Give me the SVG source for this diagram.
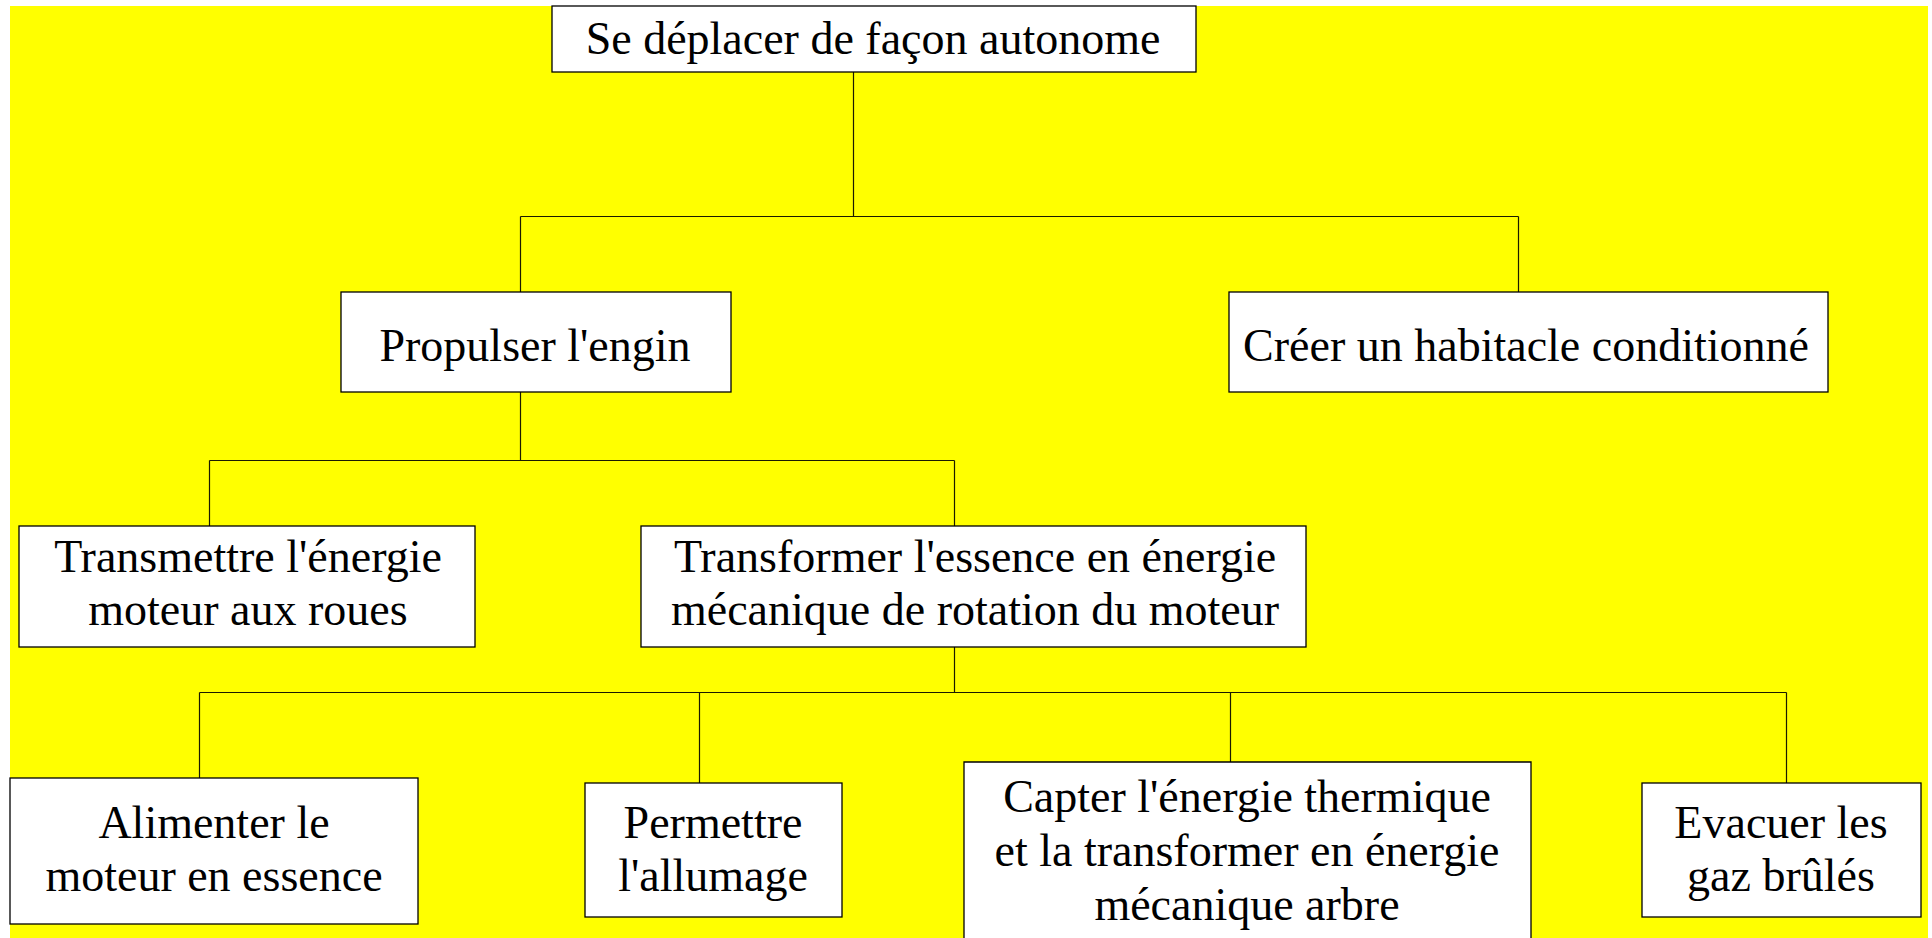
<svg xmlns="http://www.w3.org/2000/svg" width="1932" height="938" viewBox="0 0 1932 938">
<style>
.box{fill:#ffffff;stroke:#000000;stroke-width:1.3}
.t{font-family:"Liberation Serif","Times New Roman",serif;font-size:46px;fill:#000000;text-anchor:middle}
.c{fill:none;stroke:#1a1a00;stroke-width:1.2}
</style>
<rect x="0" y="0" width="1932" height="938" fill="#ffffff"/>
<rect x="10" y="6" width="1918" height="932" fill="#ffff00"/>
<g id="connectors">
<path class="c" d="M853.5 72 V216.5 M520.5 216.5 H1518.5 M520.5 216.5 V292 M1518.5 216.5 V294"/>
<path class="c" d="M520.5 392 V460.5 M209.5 460.5 H954.5 M209.5 460.5 V526 M954.5 460.5 V526"/>
<path class="c" d="M954.5 647 V692.5 M199.5 692.5 H1786.5 M199.5 692.5 V780 M699.5 692.5 V783 M1230.5 692.5 V768 M1786.5 692.5 V783"/>
</g>
<g id="n-root">
<rect class="box" x="552" y="6" width="644" height="66"/>
<text class="t" x="873" y="54">Se déplacer de façon autonome</text>
</g>
<g id="n-propulser">
<rect class="box" x="341" y="292" width="390" height="100"/>
<text class="t" x="535" y="361">Propulser l'engin</text>
</g>
<g id="n-creer">
<rect class="box" x="1229" y="292" width="599" height="100"/>
<text class="t" x="1526" y="361">Créer un habitacle conditionné</text>
</g>
<g id="n-transmettre">
<rect class="box" x="19" y="526" width="456" height="121"/>
<text class="t" x="248" y="572">Transmettre l'énergie</text>
<text class="t" x="248" y="625">moteur aux roues</text>
</g>
<g id="n-transformer">
<rect class="box" x="641" y="526" width="665" height="121"/>
<text class="t" x="975" y="572">Transformer l'essence en énergie</text>
<text class="t" x="975" y="625">mécanique de rotation du moteur</text>
</g>
<g id="n-alimenter">
<rect class="box" x="10" y="778" width="408" height="146"/>
<text class="t" x="214" y="838">Alimenter le</text>
<text class="t" x="214" y="891">moteur en essence</text>
</g>
<g id="n-permettre">
<rect class="box" x="585" y="783" width="257" height="134"/>
<text class="t" x="713" y="838">Permettre</text>
<text class="t" x="713" y="891">l'allumage</text>
</g>
<g id="n-capter">
<path class="box" d="M964 938 V762 H1531 V938"/>
<text class="t" x="1247" y="812">Capter l'énergie thermique</text>
<text class="t" x="1247" y="866">et la transformer en énergie</text>
<text class="t" x="1247" y="920">mécanique arbre</text>
</g>
<g id="n-evacuer">
<rect class="box" x="1642" y="783" width="279" height="134"/>
<text class="t" x="1781" y="838">Evacuer les</text>
<text class="t" x="1781" y="891">gaz brûlés</text>
</g>
</svg>
